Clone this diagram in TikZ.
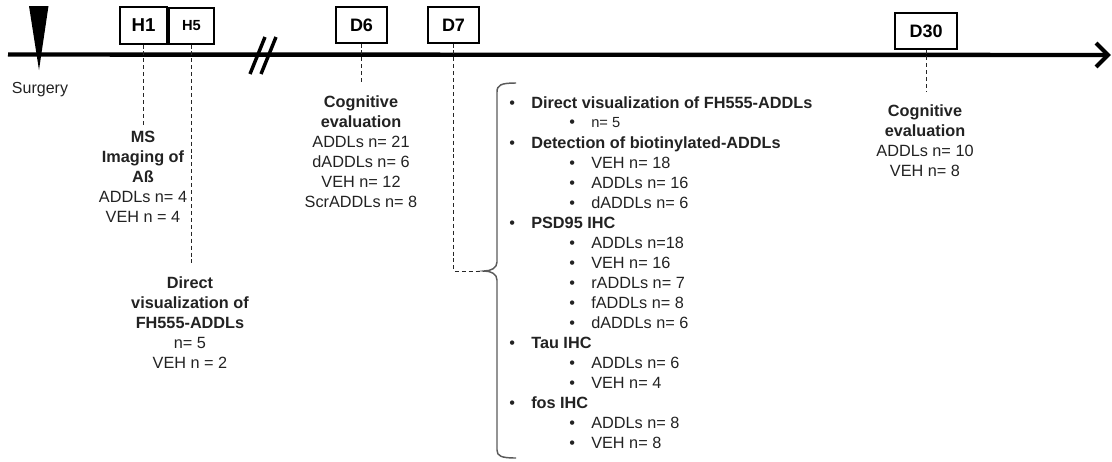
\documentclass[tikz,border=0pt]{standalone}
\usepackage{fontspec}
\setmainfont{Liberation Sans}
\definecolor{textgray}{HTML}{222222}
\definecolor{bracegray}{HTML}{5A5A5A}
\begin{document}
\begin{tikzpicture}[x=0.75pt,y=-0.75pt,
  tbox/.style={draw=black, line width=0.8pt, fill=white, inner sep=0pt},
  dashln/.style={draw=black!85, line width=0.75pt, dash pattern=on 3pt off 2.2pt},
  txt/.style={inner sep=0pt, align=center, text=textgray, font=\fontsize{12.2}{15}\selectfont},
  item/.style={inner sep=0pt, anchor=base west, text=textgray, font=\fontsize{12.2}{15}\selectfont},
]
\useasboundingbox (0,0) rectangle (1112,461);

% timeline
\coordinate (tlstart) at (8,54.5);
\coordinate (tlend) at (1108,55);
\draw[line width=3.3pt] (tlstart) -- (tlend);
\coordinate (arA) at (1096,43);
\coordinate (arB) at (1096,67);
\draw[line width=3pt, line join=miter] (arA) -- (tlend) -- (arB);

% break marks
\draw[line width=2.6pt] (250,74) -- (265,37);
\draw[line width=2.6pt] (261,74) -- (276,37);

% surgery triangle
\fill[black] (29,6) -- (48.5,6) -- (39,70) -- cycle;
\node[txt, font=\fontsize{12}{14}\selectfont] (surg) at (40,90) {Surgery};

% boxes
\node[tbox, minimum width=35.25pt, minimum height=27.75pt, font=\fontsize{14}{16}\selectfont\bfseries] (h1) at (143.5,25.5) {H1};
\node[tbox, minimum width=33.75pt, minimum height=27pt, font=\fontsize{11}{12}\selectfont\bfseries] (h5) at (191.5,26) {H5};
\node[tbox, minimum width=38.25pt, minimum height=27pt, font=\fontsize{13.5}{15}\selectfont\bfseries] (d6) at (361.5,25) {D6};
\node[tbox, minimum width=38.25pt, minimum height=27pt, font=\fontsize{13.5}{15}\selectfont\bfseries] (d7) at (453.5,25) {D7};
\node[tbox, minimum width=46.5pt, minimum height=27pt, font=\fontsize{13.5}{15}\selectfont\bfseries] (d30) at (926,31) {D30};

% text blocks
\node[txt, anchor=north] (h1t) at (143,131) {\textbf{MS}\\\textbf{Imaging of}\\\textbf{Aß}\\ADDLs n= 4\\VEH n = 4};
\node[txt, anchor=north] (h5t) at (190,276) {\textbf{Direct}\\\textbf{visualization of}\\\textbf{FH555-ADDLs}\\n= 5\\VEH n = 2};
\node[txt, anchor=north] (d6t) at (361,95) {\textbf{Cognitive}\\\textbf{evaluation}\\ADDLs n= 21\\dADDLs n= 6\\VEH n= 12\\ScrADDLs n= 8};
\node[txt, anchor=north] (d30t) at (925,104) {\textbf{Cognitive}\\\textbf{evaluation}\\ADDLs n= 10\\VEH n= 8};

% dashed connectors
\coordinate (h1end) at (143.5,127);
\coordinate (h5end) at (191.5,266);
\coordinate (d6end) at (361.5,82);
\coordinate (d30end) at (926,92);
\coordinate (bracetip) at (484,271);
\draw[dashln] (h1.south) -- (h1end);
\draw[dashln] (h5.south) -- (h5end);
\draw[dashln] (d6.south) -- (d6end);
\draw[dashln] (d30.south) -- (d30end);
\draw[dashln] (d7.south) |- (bracetip);

% brace
\draw[bracegray, line width=1.1pt] (516,83) .. controls (501,83) and (497,85) .. (497,92)
  -- (497,262) .. controls (497,268) and (491,271) .. (bracetip)
  .. controls (491,271) and (497,274) .. (497,280)
  -- (497,450) .. controls (497,456) and (501,458) .. (516,458);

% list level 1
\node[item] (l1) at (509,108) {\makebox[16.5pt][l]{\textbullet}\textbf{Direct visualization of FH555-ADDLs}};
\node[item] (l2) at (509,148) {\makebox[16.5pt][l]{\textbullet}\textbf{Detection of biotinylated-ADDLs}};
\node[item] (l3) at (509,228) {\makebox[16.5pt][l]{\textbullet}\textbf{PSD95 IHC}};
\node[item] (l4) at (509,348) {\makebox[16.5pt][l]{\textbullet}\textbf{Tau IHC}};
\node[item] (l5) at (509,408) {\makebox[16.5pt][l]{\textbullet}\textbf{fos IHC}};

% list level 2
\node[item, font=\fontsize{11}{13}\selectfont] (s11) at (569,127) {\makebox[16.5pt][l]{\fontsize{12.2}{15}\selectfont\textbullet}n= 5};
\node[item] (s21) at (569,168) {\makebox[16.5pt][l]{\textbullet}VEH n= 18};
\node[item] (s22) at (569,188) {\makebox[16.5pt][l]{\textbullet}ADDLs n= 16};
\node[item] (s23) at (569,208) {\makebox[16.5pt][l]{\textbullet}dADDLs n= 6};
\node[item] (s31) at (569,248) {\makebox[16.5pt][l]{\textbullet}ADDLs n=18};
\node[item] (s32) at (569,268) {\makebox[16.5pt][l]{\textbullet}VEH n= 16};
\node[item] (s33) at (569,288) {\makebox[16.5pt][l]{\textbullet}rADDLs n= 7};
\node[item] (s34) at (569,308) {\makebox[16.5pt][l]{\textbullet}fADDLs n= 8};
\node[item] (s35) at (569,328) {\makebox[16.5pt][l]{\textbullet}dADDLs n= 6};
\node[item] (s41) at (569,368) {\makebox[16.5pt][l]{\textbullet}ADDLs n= 6};
\node[item] (s42) at (569,388) {\makebox[16.5pt][l]{\textbullet}VEH n= 4};
\node[item] (s51) at (569,428) {\makebox[16.5pt][l]{\textbullet}ADDLs n= 8};
\node[item] (s52) at (569,448) {\makebox[16.5pt][l]{\textbullet}VEH n= 8};
\end{tikzpicture}
\end{document}
